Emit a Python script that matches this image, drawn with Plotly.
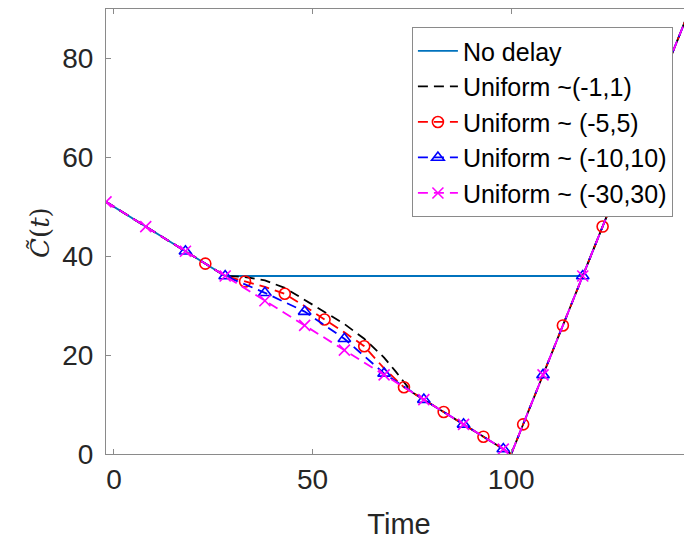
import plotly.graph_objects as go

# ---- data ----
# No delay
nd_t = [-2, 28, 118, 145]
nd_c = [51, 36, 36, 90]

# Uniform ~(-1,1)  (no markers)
u1_t = [-2, 28, 33, 38, 43, 48, 53, 58, 63, 68, 71, 75, 100, 145]
u1_c = [51, 36, 35.8, 35.1, 33.6, 31.2, 28.8, 26.3, 23.3, 19.5, 16.6, 12.5, 0, 90]

# Uniform ~ (-5,5)
u5_t = [-2, 28, 33, 38, 43, 48, 53, 58, 63, 68, 73, 100, 145]
u5_c = [51, 36, 34.9, 33.8, 32.4, 29.9, 27.2, 24.6, 21.8, 17.3, 13.5, 0, 90]
u5_mt = [23, 33, 43, 53, 63, 73, 83, 93, 103, 113, 123]
u5_mc = [38.5, 34.9, 32.4, 27.2, 21.8, 13.5, 8.5, 3.5, 6, 26, 46]

# Uniform ~ (-10,10)
u10_t = [-2, 28, 38, 48, 58, 68, 78, 100, 145]
u10_c = [51, 36, 32.6, 28.8, 23.3, 16.3, 11, 0, 90]
u10_mt = [18, 28, 38, 48, 58, 68, 78, 88, 98, 108, 118]
u10_mc = [41, 36, 32.6, 28.8, 23.3, 16.3, 11, 6, 1, 16, 36]

# Uniform ~ (-30,30)
u30_t = [-2, 100, 145]
u30_c = [51, 0, 90]
u30_mt = [-2, 8, 18, 28, 38, 48, 58, 68, 78, 88, 98, 108, 118]
u30_mc = [51, 46, 41, 36, 31, 26, 21, 16, 11, 6, 1, 16, 36]

x_ticks = [0, 50, 100]
y_ticks = [0, 20, 40, 60, 80]

names = ["No delay", "Uniform ~(-1,1)", "Uniform ~ (-5,5)",
         "Uniform ~ (-10,10)", "Uniform ~ (-30,30)"]

# ---- styles ----
C_ND = "#0072BD"
C_K = "#000000"
C_R = "#FF0000"
C_B = "#0000FF"
C_M = "#FF00FF"
DASH = "10px,6px"
LW = 1.8
MS = 11
MLW = 1.6

fig = go.Figure()

def line(t, c, color, dash):
    fig.add_trace(go.Scatter(x=t, y=c, mode="lines", showlegend=False,
                             line=dict(color=color, width=LW, dash=dash),
                             hoverinfo="skip"))

def marks(t, c, color, symbol):
    fig.add_trace(go.Scatter(x=t, y=c, mode="markers", showlegend=False,
                             marker=dict(symbol=symbol, size=MS, color=color,
                                         line=dict(color=color, width=MLW)),
                             hoverinfo="skip"))

line(nd_t, nd_c, C_ND, "solid")
line(u1_t, u1_c, C_K, DASH)
line(u5_t, u5_c, C_R, DASH)
marks(u5_mt, u5_mc, C_R, "circle-open")
line(u10_t, u10_c, C_B, DASH)
marks(u10_mt, u10_mc, C_B, "triangle-up-open")
line(u30_t, u30_c, C_M, DASH)
marks(u30_mt, u30_mc, C_M, "x-thin-open")

# legend-only entries
leg = [
    (names[0], C_ND, "solid", None),
    (names[1], C_K, DASH, None),
    (names[2], C_R, DASH, "circle-open"),
    (names[3], C_B, DASH, "triangle-up-open"),
    (names[4], C_M, DASH, "x-thin-open"),
]
for nm, col, dsh, sym in leg:
    if sym is None:
        fig.add_trace(go.Scatter(x=[None], y=[None], mode="lines", name=nm,
                                 line=dict(color=col, width=LW, dash=dsh)))
    else:
        fig.add_trace(go.Scatter(x=[None], y=[None], mode="lines+markers", name=nm,
                                 line=dict(color=col, width=LW, dash=dsh),
                                 marker=dict(symbol=sym, size=MS, color=col,
                                             line=dict(color=col, width=MLW))))

AX = "#8a8a8a"
TXT = "#262626"
FONT = "Liberation Sans, Arial, sans-serif"

# page has an 8px body margin, so the figure is drawn 8px in and down
fig.update_layout(
    width=684, height=532,
    margin=dict(l=98, r=0, t=1, b=86, autoexpand=False),
    paper_bgcolor="white", plot_bgcolor="white",
    font=dict(family=FONT, color=TXT, size=28),
    showlegend=True,
    legend=dict(x=0.5217, y=0.9595, xanchor="left", yanchor="top",
                bgcolor="white", bordercolor=AX, borderwidth=1.2,
                font=dict(family=FONT, size=25, color="#000000"),
                itemwidth=40, tracegroupgap=0),
    xaxis=dict(range=[-2, 145.5], tickvals=x_ticks, ticks="inside", ticklen=5,
               tickcolor=AX, showline=True, linecolor=AX, linewidth=1.2,
               mirror="ticks", showgrid=False, zeroline=False,
               tickfont=dict(size=28, color=TXT),
               title=dict(text="Time", font=dict(size=29, color=TXT), standoff=24)),
    yaxis=dict(range=[0, 90], tickvals=y_ticks, ticks="inside", ticklen=5,
               tickcolor=AX, showline=True, linecolor=AX, linewidth=1.2,
               showgrid=False, zeroline=False, ticklabelstandoff=6,
               tickfont=dict(size=28, color=TXT)),
    annotations=[dict(text="<i>C\u0303</i>(<i>t</i>)", textangle=-90,
                      xref="paper", yref="paper", x=-0.1125, y=0.497,
                      xanchor="center", yanchor="middle", showarrow=False,
                      font=dict(family="DejaVu Serif, Liberation Serif, serif",
                                size=26, color=TXT))],
)

fig.write_html("out.html")
